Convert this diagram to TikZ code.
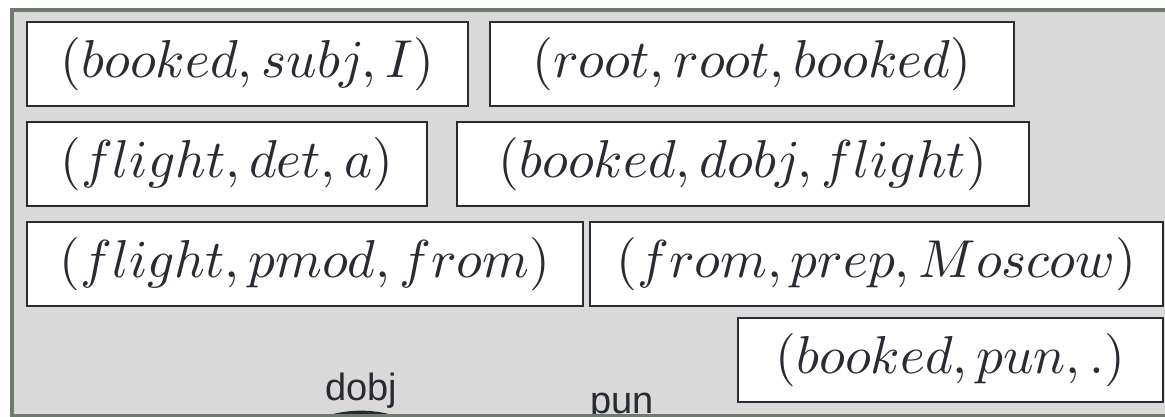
\documentclass[tikz,border=0pt]{standalone}
\usepackage{fontspec}
\newfontfamily\labelfont{Liberation Sans}
\usepackage{xcolor}
\usetikzlibrary{shapes.geometric}
\definecolor{panelgray}{HTML}{D9D9D9}
\definecolor{panelline}{HTML}{6E7B6E}
\definecolor{inkgray}{HTML}{2A2A33}
\newcommand{\tripletext}[1]{\scalebox{4.0}{$#1$}}
\begin{document}
\begin{tikzpicture}[x=0.75pt, y=-0.75pt,
  triple/.style={draw=inkgray, line width=1.1pt, fill=white, inner sep=0pt,
    minimum height=63pt, text=inkgray},
  deplabel/.style={anchor=base, inner sep=0pt, text=inkgray,
    font=\labelfont\fontsize{28.5}{30}\selectfont}]
  \useasboundingbox (0,0) rectangle (1165,417);
  \clip (0,0) rectangle (1165,417);
  \fill[panelgray] (12,10) rectangle (1190,416);
  % dependency triples
  \node[triple, minimum width=330.75pt] (bookedsubj) at (247.5,64) {\tripletext{(booked,subj,I)}};
  \node[triple, minimum width=393pt] (rootroot) at (752,64) {\tripletext{(root,root,booked)}};
  \node[triple, minimum width=300pt] (flightdet) at (227,164) {\tripletext{(flight,det,a)}};
  \node[triple, minimum width=429pt] (bookeddobj) at (743,164) {\tripletext{(booked,dobj,flight)}};
  \node[triple, minimum width=417pt] (flightpmod) at (305,264) {\tripletext{(flight,pmod,from)}};
  \node[triple, minimum width=429.75pt] (fromprep) at (876.5,264) {\tripletext{(from,prep,Moscow)}};
  \node[triple, minimum width=318.75pt] (bookedpun) at (950.5,360) {\tripletext{(booked,pun,.)}};
  % tree fragment below
  \node[deplabel] (dobjlabel) at (361,400) {dobj};
  \node[deplabel] (punlabel) at (622,413) {pun};
  \node[ellipse, fill=inkgray, minimum width=90pt, minimum height=44pt] (bookedword) at (361,440) {};
  \draw[panelline, line width=3.4pt] (1190,416) -- (12,416) -- (12,10) -- (1190,10);
\end{tikzpicture}
\end{document}
